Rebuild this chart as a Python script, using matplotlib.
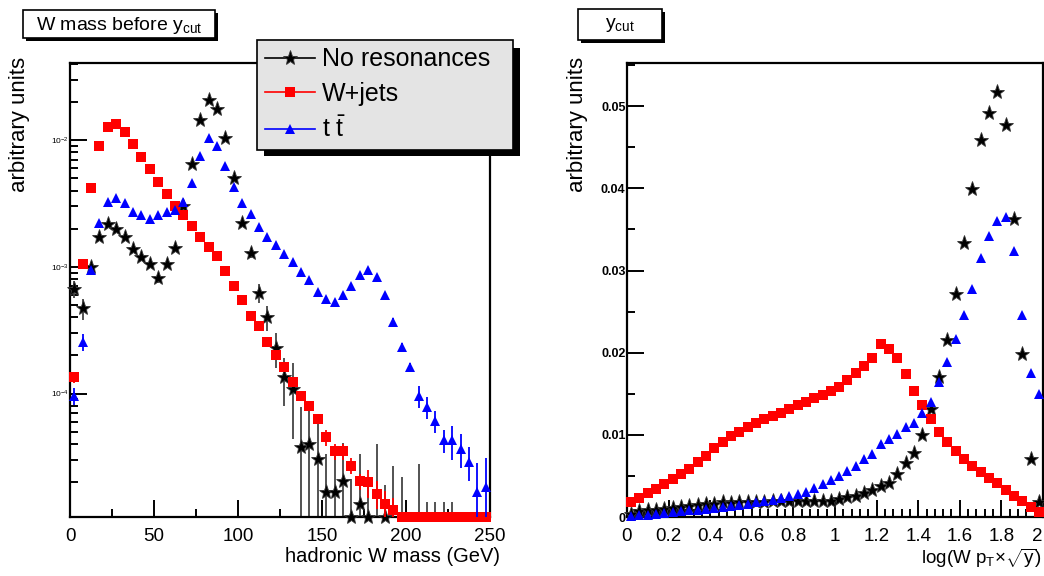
import numpy as np
import matplotlib
matplotlib.use('Agg')
import matplotlib.pyplot as plt
from matplotlib.lines import Line2D
from matplotlib.patches import Rectangle
from matplotlib.ticker import MultipleLocator, FixedLocator, FixedFormatter, LogLocator, NullFormatter

plt.rcParams['font.family'] = ['Liberation Sans', 'DejaVu Sans']
plt.rcParams['mathtext.fontset'] = 'custom'
plt.rcParams['mathtext.rm'] = 'Liberation Sans'
plt.rcParams['mathtext.it'] = 'Liberation Sans'

#------------------------------------------------------------------------------------------------
# Left panel: hadronic W mass, 50 bins of 5 GeV (0 = empty bin)
mass_centres = np.arange(2.5, 250, 5.0)

mass_nores = [6.7e-4, 4.7e-4, 1.0e-3, 1.72e-3, 2.19e-3, 2.0e-3, 1.72e-3, 1.39e-3, 1.2e-3, 1.06e-3,
              8.1e-4, 1.06e-3, 1.42e-3, 3.0e-3, 6.5e-3, 1.44e-2, 2.07e-2, 1.75e-2, 1.03e-2, 4.98e-3,
              2.22e-3, 1.29e-3, 6.25e-4, 4.0e-4, 2.3e-4, 1.35e-4, 1.09e-4, 3.8e-5, 4.0e-5, 3.05e-5,
              1.66e-5, 1.66e-5, 2.04e-5, 9e-6, 1.35e-5, 9e-6, 0, 9e-6, 0, 0,
              0, 0, 0, 0, 0, 0, 0, 0, 0, 0]
mass_nores_err = [1.0e-4, 9e-5, 1e-4, 1e-4, 1.2e-4, 1.1e-4, 1e-4, 9e-5, 8e-5, 8e-5,
                  7e-5, 8e-5, 1e-4, 1.5e-4, 2.5e-4, 4e-4, 5e-4, 4.5e-4, 3.5e-4, 2.5e-4,
                  1.6e-4, 1.2e-4, 1.1e-4, 9e-5, 7e-5, 5.5e-5, 6.5e-5, 4.0e-5, 3.8e-5, 3.0e-5,
                  1.7e-5, 1.7e-5, 2.0e-5, 1.2e-5, 2.0e-5, 1.0e-5, 4.0e-5, 1.0e-5, 2.7e-5, 2.2e-5,
                  0, 2.8e-5, 1.4e-5, 1.4e-5, 1.4e-5, 1.4e-5, 0, 0, 0, 0]

mass_wjets = [1.34e-4, 1.06e-3, 4.2e-3, 8.97e-3, 1.27e-2, 1.34e-2, 1.16e-2, 9.3e-3, 7.3e-3, 5.9e-3,
              4.68e-3, 3.74e-3, 3.0e-3, 2.55e-3, 2.1e-3, 1.72e-3, 1.44e-3, 1.21e-3, 9.2e-4, 7.1e-4,
              5.5e-4, 4.1e-4, 3.4e-4, 2.55e-4, 2.0e-4, 1.62e-4, 1.23e-4, 9.6e-5, 8.0e-5, 6.3e-5,
              4.5e-5, 3.5e-5, 3.5e-5, 2.7e-5, 2.03e-5, 2.0e-5, 1.62e-5, 1.35e-5, 1.2e-5, 9e-6,
              9e-6, 9e-6, 9e-6, 9e-6, 9e-6, 9e-6, 9e-6, 9e-6, 9e-6, 9e-6]
mass_wjets_relerr = [0.1] + [0.03] * 29 + [0.15] * 5 + [0.25] * 4 + [0.0] * 11

mass_ttbar = [9.6e-5, 2.55e-4, 9.5e-4, 2.22e-3, 3.25e-3, 3.52e-3, 3.16e-3, 2.71e-3, 2.55e-3, 2.4e-3,
              2.55e-3, 2.7e-3, 2.8e-3, 3.25e-3, 4.55e-3, 7.5e-3, 1.03e-2, 9.0e-3, 6.3e-3, 4.27e-3,
              3.16e-3, 2.6e-3, 2.07e-3, 1.72e-3, 1.48e-3, 1.27e-3, 1.09e-3, 9.1e-4, 7.8e-4, 6.3e-4,
              5.6e-4, 5.3e-4, 6.0e-4, 7.1e-4, 8.6e-4, 9.4e-4, 8.3e-4, 6.0e-4, 3.66e-4, 2.32e-4,
              1.62e-4, 9.6e-5, 7.8e-5, 6.1e-5, 4.26e-5, 4.26e-5, 3.66e-5, 2.9e-5, 1.66e-5, 1.82e-5]
mass_ttbar_relerr = [0.15, 0.15] + [0.03] * 36 + [0.08] * 3 + [0.2] * 4 + [0.3] * 3 + [0.7, 0.7]

# Right panel: log(W pT x sqrt(y)), 50 bins of 0.04
ycut_centres = np.arange(0.02, 2.0, 0.04)

ycut_nores = [0.0004, 0.0007, 0.0008, 0.0009, 0.0010, 0.0011, 0.0012, 0.0013, 0.0015, 0.0016,
              0.0016, 0.0018, 0.0017, 0.0018, 0.0018, 0.0018, 0.0018, 0.0020, 0.0020, 0.0020,
              0.0020, 0.0020, 0.0020, 0.0020, 0.0020, 0.0022, 0.0024, 0.0026, 0.0029, 0.0033,
              0.0038, 0.0041, 0.0052, 0.0066, 0.0078, 0.0100, 0.0131, 0.0170, 0.0215, 0.0272,
              0.0333, 0.0399, 0.0459, 0.0492, 0.0517, 0.0477, 0.0363, 0.0199, 0.0071, 0.0018]

ycut_wjets = [0.0018, 0.0023, 0.0029, 0.0034, 0.0040, 0.0046, 0.0052, 0.0059, 0.0067, 0.0074,
              0.0084, 0.0091, 0.0098, 0.0104, 0.0110, 0.0115, 0.0119, 0.0123, 0.0127, 0.0132,
              0.0136, 0.0140, 0.0145, 0.0149, 0.0153, 0.0158, 0.0167, 0.0175, 0.0184, 0.0194,
              0.0210, 0.0205, 0.0194, 0.0174, 0.0153, 0.0136, 0.0119, 0.0104, 0.0091, 0.0080,
              0.0070, 0.0062, 0.0055, 0.0047, 0.0041, 0.0033, 0.0026, 0.0019, 0.0012, 0.0006]

ycut_ttbar = [0.0001, 0.0002, 0.0003, 0.0004, 0.0005, 0.0006, 0.0007, 0.0008, 0.0009, 0.0010,
              0.0011, 0.0012, 0.0013, 0.0015, 0.0016, 0.0018, 0.0019, 0.0021, 0.0023, 0.0026,
              0.0028, 0.0031, 0.0035, 0.0040, 0.0045, 0.0050, 0.0056, 0.0062, 0.0070, 0.0077,
              0.0089, 0.0095, 0.0101, 0.0109, 0.0115, 0.0126, 0.0140, 0.0164, 0.0189, 0.0217,
              0.0246, 0.0278, 0.0315, 0.0342, 0.0360, 0.0365, 0.0324, 0.0246, 0.0175, 0.0150]

labels = ['No resonances', 'W+jets', r't $\bar{\rm t}$']
#------------------------------------------------------------------------------------------------
W, H = 1044, 576
def fx(px):
    return px / W
def fy(py):
    return 1 - py / H

figure = plt.figure(figsize=(W / 100, H / 100), dpi=100)
ax1 = figure.add_axes([fx(70), fy(517), 420 / W, 454 / H])
ax2 = figure.add_axes([fx(627), fy(517), 416 / W, 454 / H])

ymin_log, ymax_log = 1.06e-5, 0.0406

styles = [dict(color='black', marker='*', ms=11, mew=0.6, mec='#333333'),
          dict(color='#ff0000', marker='s', ms=6.5, mew=0),
          dict(color='#0000ff', marker='^', ms=7.5, mew=0)]

# --- left panel (log y), with error bars
nores = np.array(mass_nores)
wjets = np.array(mass_wjets)
ttbar = np.array(mass_ttbar)
errs = [np.array(mass_nores_err), wjets * np.array(mass_wjets_relerr), ttbar * np.array(mass_ttbar_relerr)]
err_cols = ['#444444', '#ff0000', '#0000ff']
for i, vals in enumerate([nores, wjets, ttbar]):
    e = errs[i]
    m = e > 0
    lo = np.maximum(vals - e, 1e-7)
    ax1.vlines(mass_centres[m], lo[m], (vals + e)[m], color=err_cols[i], lw=1.3, zorder=2 + i)
    keep = vals > 0
    yplot = np.maximum(vals[keep], ymin_log)
    ax1.plot(mass_centres[keep], yplot, ls='none', clip_on=False, zorder=3 + i, **styles[i])

ax1.set_yscale('log')
ax1.set_xlim(0, 250)
ax1.set_ylim(ymin_log, ymax_log)
ax1.yaxis.set_major_locator(FixedLocator([1e-4, 1e-3, 1e-2]))
ax1.yaxis.set_major_formatter(FixedFormatter([r'$10^{-4}$', r'$10^{-3}$', r'$10^{-2}$']))
ax1.yaxis.set_minor_locator(LogLocator(base=10, subs=np.arange(2, 10), numticks=20))
ax1.yaxis.set_minor_formatter(NullFormatter())
ax1.xaxis.set_major_locator(MultipleLocator(50))
ax1.xaxis.set_minor_locator(MultipleLocator(25))

# --- right panel (linear y)
for i, vals in enumerate([ycut_nores, ycut_wjets, ycut_ttbar]):
    ax2.plot(ycut_centres, vals, ls='none', clip_on=False, zorder=3 + i, **styles[i])
ax2.set_xlim(0, 2)
ax2.set_ylim(0, 0.05526)
ax2.xaxis.set_major_locator(MultipleLocator(0.2))
ax2.xaxis.set_minor_locator(MultipleLocator(0.04))
ax2.xaxis.set_major_formatter(plt.FuncFormatter(lambda v, p: '%g' % round(v, 1)))
ax2.yaxis.set_major_locator(MultipleLocator(0.01))
ax2.yaxis.set_minor_locator(MultipleLocator(0.005))
ax2.yaxis.set_major_formatter(plt.FuncFormatter(lambda v, p: '%g' % round(v, 2)))

for ax in (ax1, ax2):
    for s in ax.spines.values():
        s.set_linewidth(1.6)
    ax.tick_params(which='both', direction='in', top=False, right=False, width=1.4)
    ax.tick_params(axis='x', which='major', length=12, labelsize=13.5, pad=8)
    ax.tick_params(axis='x', which='minor', length=6)
    ax.tick_params(axis='y', which='major', length=12, pad=1)
    ax.tick_params(axis='y', which='minor', length=6)
ax1.tick_params(axis='y', which='major', labelsize=6)
ax2.tick_params(axis='y', which='major', labelsize=9)
for t in ax2.get_yticklabels():
    t.set_fontweight('bold')

# the "2" at the right end sits on the figure edge: keep it inside
figure.canvas.draw()
xt = ax2.get_xticklabels()
for t in xt:
    if t.get_text() == '2':
        t.set_horizontalalignment('right')

# --- axis titles (ROOT style, aligned to the axis ends)
figure.text(fx(20), fy(57), 'arbitrary units', rotation=90, ha='center', va='top', fontsize=16)
figure.text(fx(577), fy(57), 'arbitrary units', rotation=90, ha='center', va='top', fontsize=16)
figure.text(fx(500), fy(557), 'hadronic W mass (GeV)', ha='right', va='center', fontsize=14.5)
figure.text(fx(1042), fy(558), r'log(W p$_{\rm T}$$\times\sqrt{\rm y}$)', ha='right', va='center',
            fontsize=13.5)

# --- title boxes with shadows
def title_box(x0, y0, x1, y1, text, shadow=3):
    figure.add_artist(Rectangle((fx(x0 + shadow), fy(y1 + shadow)), (x1 - x0) / W, (y1 - y0) / H,
                                facecolor='black', edgecolor='none', zorder=10))
    figure.add_artist(Rectangle((fx(x0), fy(y1)), (x1 - x0) / W, (y1 - y0) / H,
                                facecolor='white', edgecolor='black', lw=1.2, zorder=11))
    figure.text(fx((x0 + x1) / 2), fy((y0 + y1) / 2 + 1), text, ha='center', va='center',
                fontsize=14, zorder=12)

title_box(23, 10, 215, 38, r'W mass before y$_{\rm cut}$')
title_box(578, 9, 662, 40, r'y$_{\rm cut}$')

# --- legend with black shadow
figure.add_artist(Rectangle((fx(264), fy(156)), 256 / W, 108 / H, facecolor='black',
                            edgecolor='none', zorder=20))
handles = [Line2D([], [], lw=1.2, **styles[i]) for i in range(3)]
leg = figure.legend(handles, labels, loc='upper left',
                    bbox_to_anchor=(fx(257), fy(148), 256 / W, 108 / H), mode='expand',
                    fontsize=18, frameon=True, fancybox=False, framealpha=1,
                    facecolor='#e4e4e4', edgecolor='black', borderpad=0.3, labelspacing=0.42,
                    handlelength=2.0, handletextpad=0.3, borderaxespad=0)
leg.get_frame().set_linewidth(1.2)
leg.set_zorder(21)

figure.savefig('out.png', dpi=100)
